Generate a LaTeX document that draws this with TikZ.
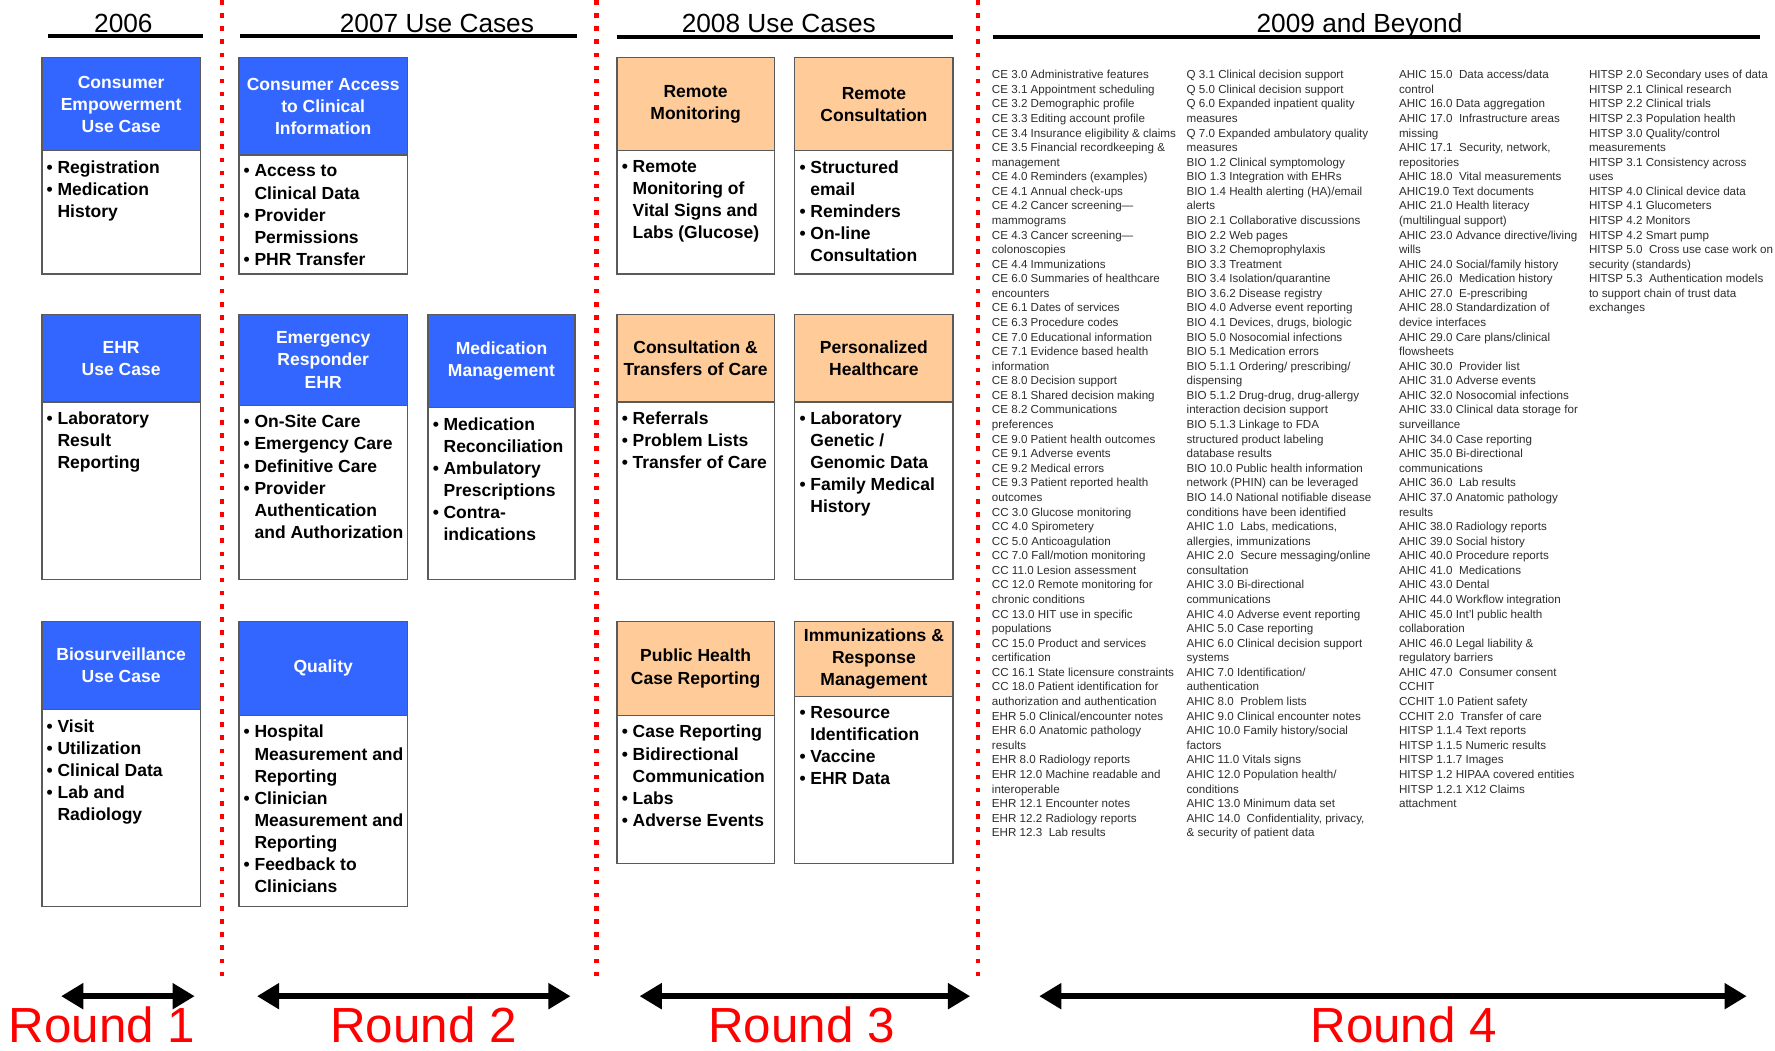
\documentclass[tikz,border=0pt]{standalone}
\usepackage{fontspec}
\setmainfont{Liberation Sans}
\usetikzlibrary{arrows.meta}

\definecolor{ucblue}{RGB}{51,102,255}
\definecolor{ucorange}{RGB}{255,204,153}
\definecolor{boxgray}{RGB}{90,90,90}
\definecolor{listgray}{RGB}{45,45,45}

\newcommand{\ucbul}{\makebox[2.4mm][l]{\textbullet}}
\newcommand{\ucind}{\hspace*{2.4mm}}

% one use case: name, left, top, right, header bottom, bottom, style, header, items
\newcommand{\ucbox}[9]{%
  \node[#7, anchor=north west, minimum width={(#4-#2)*0.25mm},
    minimum height={(#5-#3)*0.25mm}] (#1) at (#2,#3) {#8};
  \draw[boxline] (#1.south west) rectangle (#4,#6);
  \node[items] (#1-list) at ([xshift=1mm,yshift=-2.1mm]#1.south west) {#9};
}

\tikzset{
  hdr/.style={draw=boxgray, line width=0.3mm, inner sep=0pt, outer sep=0pt,
    align=center, font=\fontsize{11}{13.9}\selectfont\bfseries},
  bluehdr/.style={hdr, fill=ucblue, text=white},
  orangehdr/.style={hdr, fill=ucorange, text=black},
  boxline/.style={draw=boxgray, line width=0.3mm},
  items/.style={anchor=north west, inner sep=0pt, align=left,
    font=\fontsize{11}{13.9}\selectfont\bfseries},
  yeartitle/.style={anchor=base, inner sep=0pt, font=\fontsize{16.5}{18}\selectfont},
  yearline/.style={line width=0.9mm},
  roundline/.style={line width=1.3mm,
    {Triangle[length=4.9mm,width=5.5mm]}-{Triangle[length=4.9mm,width=5.5mm]}},
  roundlabel/.style={anchor=base, inner sep=0pt, text=red,
    font=\fontsize{31}{34}\selectfont},
  divider/.style={red, line width=1mm, dash pattern=on 1mm off 1.9mm},
  reqlist/.style={anchor=north west, inner sep=0pt, align=left, text=listgray,
    font=\fontsize{7.3}{9.16}\selectfont},
}

\begin{document}
\begin{tikzpicture}[x=0.25mm, y=-0.25mm]
\useasboundingbox (0,0) rectangle (1568,928);

% year headings
\node[yeartitle] (t2006) at (109,28.5) {2006};
\node[yeartitle] (t2007) at (386,28.5) {2007 Use Cases};
\node[yeartitle] (t2008) at (688,29) {2008 Use Cases};
\node[yeartitle] (t2009) at (1201,29) {2009 and Beyond};
\draw[yearline] (42,32) -- (179,32);
\draw[yearline] (212,32) -- (510,32);
\draw[yearline] (545,33) -- (842,33);
\draw[yearline] (877,33) -- (1555,33);

% round dividers
\draw[divider] (196,0) -- (196,868);
\draw[divider] (527,0) -- (527,868);
\draw[divider] (864,0) -- (864,868);

% 2006
\ucbox{ce}{37}{51}{177}{133}{242}{bluehdr}{Consumer\\Empowerment\\Use Case}
  {\ucbul Registration\\ \ucbul Medication\\ \ucind History}
\ucbox{ehr}{37}{278}{177}{355}{512}{bluehdr}{EHR\\Use Case}
  {\ucbul Laboratory\\ \ucind Result\\ \ucind Reporting}
\ucbox{bio}{37}{549}{177}{627}{801}{bluehdr}{Biosurveillance\\Use Case}
  {\ucbul Visit\\ \ucbul Utilization\\ \ucbul Clinical Data\\ \ucbul Lab and\\ \ucind Radiology}

% 2007
\ucbox{access}{211}{51}{360}{137}{242}{bluehdr}{Consumer Access\\to Clinical\\Information}
  {\ucbul Access to\\ \ucind Clinical Data\\ \ucbul Provider\\ \ucind Permissions\\ \ucbul PHR Transfer}
\ucbox{emerg}{211}{278}{360}{358}{512}{bluehdr}{Emergency\\Responder\\EHR}
  {\ucbul On-Site Care\\ \ucbul Emergency Care\\ \ucbul Definitive Care\\ \ucbul Provider\\ \ucind Authentication\\ \ucind and Authorization}
\ucbox{medmgmt}{378}{278}{508}{360}{512}{bluehdr}{Medication\\Management}
  {\ucbul Medication\\ \ucind Reconciliation\\ \ucbul Ambulatory\\ \ucind Prescriptions\\ \ucbul Contra-\\ \ucind indications}
\ucbox{quality}{211}{549}{360}{632}{801}{bluehdr}{Quality}
  {\ucbul Hospital\\ \ucind Measurement and\\ \ucind Reporting\\ \ucbul Clinician\\ \ucind Measurement and\\ \ucind Reporting\\ \ucbul Feedback to\\ \ucind Clinicians}

% 2008
\ucbox{rmon}{545}{51}{684}{133}{242}{orangehdr}{Remote\\Monitoring}
  {\ucbul Remote\\ \ucind Monitoring of\\ \ucind Vital Signs and\\ \ucind Labs (Glucose)}
\ucbox{rcons}{702}{51}{842}{133}{242}{orangehdr}{Remote\\Consultation}
  {\ucbul Structured\\ \ucind email\\ \ucbul Reminders\\ \ucbul On-line\\ \ucind Consultation}
\ucbox{transfer}{545}{278}{684}{355}{512}{orangehdr}{Consultation \&\\Transfers of Care}
  {\ucbul Referrals\\ \ucbul Problem Lists\\ \ucbul Transfer of Care}
\ucbox{phealth}{702}{278}{842}{355}{512}{orangehdr}{Personalized\\Healthcare}
  {\ucbul Laboratory\\ \ucind Genetic /\\ \ucind Genomic Data\\ \ucbul Family Medical\\ \ucind History}
\ucbox{casrep}{545}{549}{684}{632}{763}{orangehdr}{Public Health\\Case Reporting}
  {\ucbul Case Reporting\\ \ucbul Bidirectional\\ \ucind Communication\\ \ucbul Labs\\ \ucbul Adverse Events}
\ucbox{immun}{702}{549}{842}{615}{763}{orangehdr}{Immunizations \&\\Response\\Management}
  {\ucbul Resource\\ \ucind Identification\\ \ucbul Vaccine\\ \ucbul EHR Data}

% 2009 and beyond
\node[reqlist] (req-ce) at (876,61.8) {CE 3.0 Administrative features\\
CE 3.1 Appointment scheduling\\
CE 3.2 Demographic profile\\
CE 3.3 Editing account profile\\
CE 3.4 Insurance eligibility \& claims\\
CE 3.5 Financial recordkeeping \&\\
management\\
CE 4.0 Reminders (examples)\\
CE 4.1 Annual check-ups\\
CE 4.2 Cancer screening—\\
mammograms\\
CE 4.3 Cancer screening—\\
colonoscopies\\
CE 4.4 Immunizations\\
CE 6.0 Summaries of healthcare\\
encounters\\
CE 6.1 Dates of services\\
CE 6.3 Procedure codes\\
CE 7.0 Educational information\\
CE 7.1 Evidence based health\\
information\\
CE 8.0 Decision support\\
CE 8.1 Shared decision making\\
CE 8.2 Communications\\
preferences\\
CE 9.0 Patient health outcomes\\
CE 9.1 Adverse events\\
CE 9.2 Medical errors\\
CE 9.3 Patient reported health\\
outcomes\\
CC 3.0 Glucose monitoring\\
CC 4.0 Spirometery\\
CC 5.0 Anticoagulation\\
CC 7.0 Fall/motion monitoring\\
CC 11.0 Lesion assessment\\
CC 12.0 Remote monitoring for\\
chronic conditions\\
CC 13.0 HIT use in specific\\
populations\\
CC 15.0 Product and services\\
certification\\
CC 16.1 State licensure constraints\\
CC 18.0 Patient identification for\\
authorization and authentication\\
EHR 5.0 Clinical/encounter notes\\
EHR 6.0 Anatomic pathology\\
results\\
EHR 8.0 Radiology reports\\
EHR 12.0 Machine readable and\\
interoperable\\
EHR 12.1 Encounter notes\\
EHR 12.2 Radiology reports\\
EHR 12.3~ Lab results};

\node[reqlist] (req-bio) at (1048,61.8) {Q 3.1 Clinical decision support\\
Q 5.0 Clinical decision support\\
Q 6.0 Expanded inpatient quality\\
measures\\
Q 7.0 Expanded ambulatory quality\\
measures\\
BIO 1.2 Clinical symptomology\\
BIO 1.3 Integration with EHRs\\
BIO 1.4 Health alerting (HA)/email\\
alerts\\
BIO 2.1 Collaborative discussions\\
BIO 2.2 Web pages\\
BIO 3.2 Chemoprophylaxis\\
BIO 3.3 Treatment\\
BIO 3.4 Isolation/quarantine\\
BIO 3.6.2 Disease registry\\
BIO 4.0 Adverse event reporting\\
BIO 4.1 Devices, drugs, biologic\\
BIO 5.0 Nosocomial infections\\
BIO 5.1 Medication errors\\
BIO 5.1.1 Ordering/ prescribing/\\
dispensing\\
BIO 5.1.2 Drug-drug, drug-allergy\\
interaction decision support\\
BIO 5.1.3 Linkage to FDA\\
structured product labeling\\
database results\\
BIO 10.0 Public health information\\
network (PHIN) can be leveraged\\
BIO 14.0 National notifiable disease\\
conditions have been identified\\
AHIC 1.0~ Labs, medications,\\
allergies, immunizations\\
AHIC 2.0~ Secure messaging/online\\
consultation\\
AHIC 3.0 Bi-directional\\
communications\\
AHIC 4.0 Adverse event reporting\\
AHIC 5.0 Case reporting\\
AHIC 6.0 Clinical decision support\\
systems\\
AHIC 7.0 Identification/\\
authentication\\
AHIC 8.0~ Problem lists\\
AHIC 9.0 Clinical encounter notes\\
AHIC 10.0 Family history/social\\
factors\\
AHIC 11.0 Vitals signs\\
AHIC 12.0 Population health/\\
conditions\\
AHIC 13.0 Minimum data set\\
AHIC 14.0~ Confidentiality, privacy,\\
\& security of patient data};

\node[reqlist] (req-ahic) at (1235.6,61.8) {AHIC 15.0~ Data access/data\\
control\\
AHIC 16.0 Data aggregation\\
AHIC 17.0~ Infrastructure areas\\
missing\\
AHIC 17.1~ Security, network,\\
repositories\\
AHIC 18.0~ Vital measurements\\
AHIC19.0 Text documents\\
AHIC 21.0 Health literacy\\
(multilingual support)\\
AHIC 23.0 Advance directive/living\\
wills\\
AHIC 24.0 Social/family history\\
AHIC 26.0~ Medication history\\
AHIC 27.0~ E-prescribing\\
AHIC 28.0 Standardization of\\
device interfaces\\
AHIC 29.0 Care plans/clinical\\
flowsheets\\
AHIC 30.0~ Provider list\\
AHIC 31.0 Adverse events\\
AHIC 32.0 Nosocomial infections\\
AHIC 33.0 Clinical data storage for\\
surveillance\\
AHIC 34.0 Case reporting\\
AHIC 35.0 Bi-directional\\
communications\\
AHIC 36.0~ Lab results\\
AHIC 37.0 Anatomic pathology\\
results\\
AHIC 38.0 Radiology reports\\
AHIC 39.0 Social history\\
AHIC 40.0 Procedure reports\\
AHIC 41.0~ Medications\\
AHIC 43.0 Dental\\
AHIC 44.0 Workflow integration\\
AHIC 45.0 Int'l public health\\
collaboration\\
AHIC 46.0 Legal liability \&\\
regulatory barriers\\
AHIC 47.0~ Consumer consent\\
CCHIT\\
CCHIT 1.0 Patient safety\\
CCHIT 2.0~ Transfer of care\\
HITSP 1.1.4 Text reports\\
HITSP 1.1.5 Numeric results\\
HITSP 1.1.7 Images\\
HITSP 1.2 HIPAA covered entities\\
HITSP 1.2.1 X12 Claims\\
attachment};

\node[reqlist] (req-hitsp) at (1403.4,61.8) {HITSP 2.0 Secondary uses of data\\
HITSP 2.1 Clinical research\\
HITSP 2.2 Clinical trials\\
HITSP 2.3 Population health\\
HITSP 3.0 Quality/control\\
measurements\\
HITSP 3.1 Consistency across\\
uses\\
HITSP 4.0 Clinical device data\\
HITSP 4.1 Glucometers\\
HITSP 4.2 Monitors\\
HITSP 4.2 Smart pump\\
HITSP 5.0~ Cross use case work on\\
security (standards)\\
HITSP 5.3~ Authentication models\\
to support chain of trust data\\
exchanges};

% rounds
\coordinate (r1a) at (54,880);   \coordinate (r1b) at (172,880);
\coordinate (r2a) at (227,880);  \coordinate (r2b) at (504,880);
\coordinate (r3a) at (565,880);  \coordinate (r3b) at (857,880);
\coordinate (r4a) at (918,880);  \coordinate (r4b) at (1543,880);
\draw[roundline] (r1a) -- (r1b);
\draw[roundline] (r2a) -- (r2b);
\draw[roundline] (r3a) -- (r3b);
\draw[roundline] (r4a) -- (r4b);
\node[roundlabel] (round1) at (90,921) {Round 1};
\node[roundlabel] (round2) at (374,921) {Round 2};
\node[roundlabel] (round3) at (708,921) {Round 3};
\node[roundlabel] (round4) at (1240,921) {Round 4};
\end{tikzpicture}
\end{document}
